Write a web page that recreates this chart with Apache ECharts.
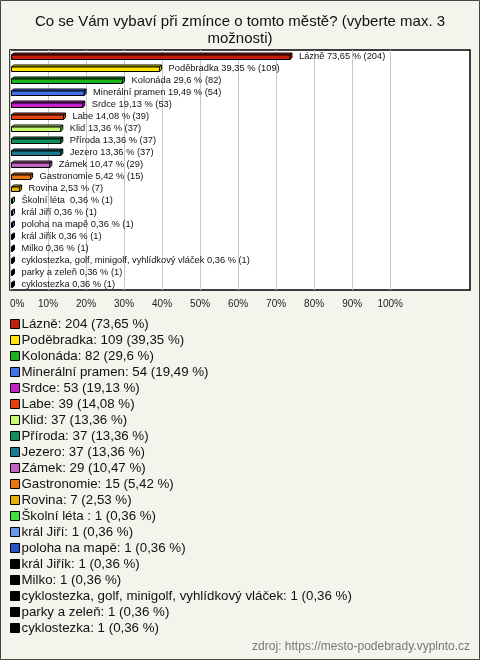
<!DOCTYPE html>
<html><head><meta charset="utf-8">
<script src="https://cdn.jsdelivr.net/npm/echarts@6/dist/echarts.min.js"></script>
<style>html,body{margin:0;padding:0;background:#f4f3ec}#c{width:480px;height:660px}</style>
</head><body><div id="c"></div>
<script>
const titleText = 'Co se Vám vybaví při zmínce o tomto městě? (vyberte max. 3\nmožnosti)';
const sourceText = 'zdroj: https://mesto-podebrady.vyplnto.cz';
const categories = ['Lázně','Poděbradka','Kolonáda','Minerální pramen','Srdce','Labe','Klid','Příroda','Jezero','Zámek','Gastronomie','Rovina','Školní léta ','král Jiří','poloha na mapě','král Jiřík','Milko','cyklostezka, golf, minigolf, vyhlídkový vláček','parky a zeleň','cyklostezka'];
const counts = [204,109,82,54,53,39,37,37,37,29,15,7,1,1,1,1,1,1,1,1];
const percents = [73.65,39.35,29.6,19.49,19.13,14.08,13.36,13.36,13.36,10.47,5.42,2.53,0.36,0.36,0.36,0.36,0.36,0.36,0.36,0.36];
const colors = ['#c41e0c','#ffe600','#1cb41c','#4272ee','#c421cc','#e6400e','#c8fa6e','#12905c','#1c7a8e','#c462c4','#e8780e','#e6b008','#40e040','#6a98e6','#2a52c0','#000000','#000000','#000000','#000000','#000000'];
const xTicks = [0,10,20,30,40,50,60,70,80,90,100];

const fmt = v => String(v).replace('.', ',');
const FONT = '"Liberation Sans", Arial, sans-serif';

function renderItem(params, api) {
  const v = api.value(0), c = api.value(1);
  const p0 = api.coord([0, c]);
  const p1 = api.coord([v, c]);
  const cy = p0[1];
  const d = 2;
  const xl = p0[0] + 1.5;
  const xr = Math.max(p1[0], xl + 1);
  const top = cy - 1, bot = cy + 3.5;
  const color = api.visual('color');
  const st = {fill: color, stroke: '#000', lineWidth: 1};
  const idx = params.seriesIndex;
  return {
    type: 'group',
    children: [
      {type: 'polygon', shape: {points: [[xl, top], [xl + d, top - d], [xr + d, top - d], [xr, top]]}, style: st},
      {type: 'polygon', shape: {points: [[xr, top], [xr + d, top - d], [xr + d, bot - d], [xr, bot]]}, style: st},
      {type: 'rect', shape: {x: xl, y: top, width: xr - xl, height: bot - top}, style: st},
      {type: 'text', style: {text: categories[idx] + ' ' + fmt(percents[idx]) + ' % (' + counts[idx] + ')', x: xr + d + 7, y: cy + 0.5, verticalAlign: 'middle', fill: '#111', font: '9.3px ' + FONT}}
    ]
  };
}

const series = categories.map((name, i) => ({
  type: 'custom',
  name: name,
  color: colors[i],
  renderItem: renderItem,
  encode: {x: 0, y: 1},
  clip: false,
  data: [[percents[i], i]]
}));

const gridColors = xTicks.map(() => '#c8c8c8').concat(['rgba(0,0,0,0)', 'rgba(0,0,0,0)', 'rgba(0,0,0,0)', 'rgba(0,0,0,0)']);

const chart = echarts.init(document.getElementById('c'), null, {renderer: 'canvas'});
chart.setOption({
  backgroundColor: '#f4f3ec',
  animation: false,
  title: {text: titleText, left: 'center', top: 8, textStyle: {fontFamily: FONT, fontSize: 15, fontWeight: 'normal', color: '#111', lineHeight: 17}},
  grid: {left: 10, right: 10, top: 50, height: 240, show: true, backgroundColor: '#ffffff', borderColor: '#000', borderWidth: 1.5},
  xAxis: {type: 'value', min: 0, max: 121, interval: 10,
    axisLine: {show: false}, axisTick: {show: false},
    splitLine: {show: true, lineStyle: {color: gridColors, width: 1}},
    axisLabel: {margin: 9, color: '#222', fontFamily: FONT, fontSize: 10, alignMinLabel: 'left', formatter: v => (v <= 100 ? v + '%' : '')}},
  yAxis: {type: 'category', data: categories, inverse: true, show: false},
  legend: {orient: 'vertical', left: 10, top: 316, padding: 0, itemWidth: 9, itemHeight: 9, itemGap: 0, icon: 'rect', selectedMode: false,
    itemStyle: {borderColor: '#000', borderWidth: 1},
    textStyle: {fontFamily: FONT, fontSize: 13.3, color: '#111', lineHeight: 16, padding: [0, 0, 0, -3]},
    formatter: name => { const i = categories.indexOf(name); return name + ': ' + counts[i] + ' (' + fmt(percents[i]) + ' %)'; },
    data: categories},
  graphic: [
    {type: 'rect', shape: {x: 0.5, y: 0.5, width: 479, height: 659}, style: {fill: 'none', stroke: '#444', lineWidth: 1}, silent: true},
    {type: 'text', right: 10, top: 641, style: {text: sourceText, fill: '#777', font: '12px ' + FONT}}
  ],
  series: series
});
</script></body></html>
